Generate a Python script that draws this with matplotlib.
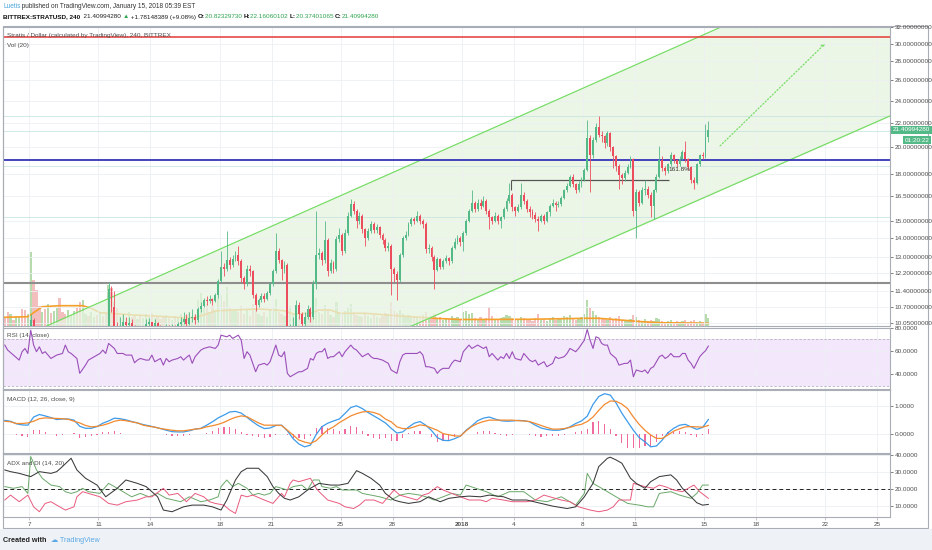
import numpy as np
import matplotlib.pyplot as plt
from matplotlib.patches import Rectangle

plt.rcParams['font.family'] = ['Liberation Sans', 'DejaVu Sans']

W, H = 932, 550

# ---------------- data ----------------
# 4h candles, time in days since 1 Dec 2017
t0 = 4.5833
first_open = 9.3
closes = [
    9.2, 9.0, 9.3, 9.1, 9.4, 9.6, 9.5, 9.3, 9.6, 10.15,
    9.7, 9.6, 9.4, 9.5, 9.3, 9.4, 9.2, 9.3, 9.5, 9.4,
    9.3, 9.2, 9.4, 9.5, 9.6, 9.5, 9.4, 9.6, 9.7, 9.5,
    9.6, 9.7, 9.6, 9.8, 9.7, 9.6, 11.5, 10.7, 9.9, 9.7,
    9.9, 10.1, 9.95, 10.05, 9.9, 9.7, 9.8, 9.6, 9.8, 10.0,
    10.1, 9.9, 10.05, 9.9, 9.8, 9.7, 9.9, 9.8, 9.9, 9.85,
    10.0, 10.1, 10.2, 10.0, 10.25, 10.3, 10.15, 10.6, 10.75, 11.0,
    10.95, 11.05, 10.95, 11.2, 11.85, 12.5, 12.4, 12.85, 12.6, 12.9,
    13.1, 12.8, 12.0, 11.7, 12.4, 12.3, 11.2, 10.8, 11.0, 11.15,
    11.05, 11.3, 11.7, 12.3, 13.3, 12.85, 12.4, 12.6, 9.3, 9.6,
    9.9, 10.8, 10.4, 10.0, 10.3, 10.6, 10.3, 11.7, 13.1, 13.2,
    12.85, 13.9, 12.3, 12.7, 12.4, 13.95, 14.2, 13.3, 14.3, 15.3,
    16.0, 15.6, 14.95, 15.3, 14.5, 14.0, 14.4, 14.8, 14.45, 14.65,
    14.2, 13.9, 13.5, 13.6, 12.4, 12.15, 11.9, 13.1, 14.0, 14.2,
    14.8, 15.1, 14.95, 15.3, 15.0, 14.8, 13.4, 13.5, 13.0, 12.35,
    12.9, 12.5, 12.8, 12.95, 12.8, 13.5, 13.8, 14.0, 13.8, 14.3,
    15.0, 15.6, 16.1, 15.7, 16.1, 15.9, 16.2, 15.6, 15.2, 15.0,
    15.3, 15.0, 15.2, 15.7, 16.2, 16.6, 15.8, 15.6, 15.8, 16.6,
    16.2, 15.7, 15.5, 15.35, 15.1, 15.0, 15.3, 15.0, 15.5, 15.9,
    16.1, 15.95, 16.0, 16.4, 16.9, 17.2, 17.8, 17.3, 16.9, 17.3,
    17.6, 18.3, 20.7, 19.4, 20.6, 21.6, 21.0, 20.9, 20.3, 21.1,
    20.0, 19.3, 18.6, 17.9, 17.7, 18.1, 18.5, 19.1, 15.6, 16.8,
    16.1, 16.9, 17.0, 16.6, 15.9, 16.9, 17.8, 19.0, 18.4, 18.2,
    18.7, 19.4, 19.0, 18.7, 19.1, 19.6, 19.1, 18.5, 17.6, 17.4,
    18.7, 19.4, 19.3, 20.82, 21.41]
highs = [
    9.4, 9.3, 9.4, 9.4, 9.6, 9.8, 9.7, 9.6, 9.8, 10.4,
    10.25, 9.8, 9.7, 9.6, 9.6, 9.5, 9.5, 9.4, 9.6, 9.6,
    9.5, 9.4, 9.5, 9.6, 9.7, 9.7, 9.6, 9.7, 9.8, 9.8,
    9.7, 9.8, 9.8, 9.85, 9.85, 9.8, 11.8, 11.6, 11.4, 10.1,
    10.3, 10.4, 10.3, 10.3, 10.2, 9.95, 9.9, 9.85, 9.9, 10.2,
    10.25, 10.1, 10.2, 10.1, 9.95, 9.9, 10.0, 9.95, 10.0, 9.95,
    10.1, 10.3, 10.5, 10.4, 10.5, 10.6, 10.4, 10.7, 10.9, 11.1,
    11.15, 11.2, 11.1, 11.3, 11.95, 13.3, 12.7, 14.4, 13.0, 13.1,
    13.3, 13.6, 12.9, 12.1, 12.6, 12.6, 12.35, 11.3, 11.1, 11.3,
    11.3, 11.4, 11.8, 12.4, 14.3, 13.5, 12.9, 12.8, 12.7, 10.0,
    10.3, 11.0, 10.9, 10.5, 10.5, 10.8, 10.7, 11.9, 15.6, 13.5,
    13.3, 15.0, 14.0, 12.9, 12.8, 14.1, 14.6, 14.3, 14.5, 15.5,
    16.3, 16.2, 15.7, 15.5, 15.4, 14.6, 14.6, 15.0, 14.9, 14.8,
    14.7, 14.3, 14.0, 13.8, 13.7, 12.5, 12.3, 13.2, 14.1, 14.4,
    14.9, 15.2, 15.2, 15.6, 15.4, 15.1, 14.9, 13.7, 13.6, 13.1,
    13.0, 12.95, 12.9, 13.1, 13.0, 13.6, 14.0, 14.2, 14.1, 14.4,
    15.1, 15.7, 16.9, 16.2, 16.3, 16.3, 16.5, 16.3, 15.7, 15.3,
    15.5, 15.4, 15.3, 15.8, 16.4, 17.4, 16.7, 15.9, 16.0, 17.4,
    16.8, 16.3, 15.9, 15.7, 15.5, 15.3, 15.4, 15.4, 15.6, 16.0,
    16.3, 16.2, 16.2, 16.5, 17.0, 17.4, 17.9, 18.0, 17.4, 17.5,
    17.8, 18.4, 22.2, 21.0, 20.8, 22.0, 22.6, 21.3, 21.0, 21.3,
    21.2, 20.1, 19.4, 18.7, 18.1, 18.3, 18.7, 19.3, 19.2, 17.0,
    16.9, 17.1, 17.6, 17.2, 16.8, 17.0, 18.0, 20.1, 19.3, 18.6,
    18.8, 19.6, 19.5, 19.1, 19.3, 19.8, 20.5, 19.2, 18.6, 17.8,
    18.8, 19.5, 19.6, 21.9, 22.16]
lows = [
    8.9, 8.8, 8.9, 8.9, 9.0, 9.3, 9.2, 9.1, 9.2, 9.5,
    9.5, 9.4, 9.3, 9.3, 9.2, 9.2, 9.1, 9.1, 9.2, 9.3,
    9.2, 9.1, 9.1, 9.3, 9.4, 9.4, 9.3, 9.3, 9.5, 9.4,
    9.4, 9.5, 9.5, 9.5, 9.6, 9.5, 9.5, 10.5, 9.7, 9.5,
    9.6, 9.8, 9.8, 9.8, 9.7, 9.5, 9.6, 9.5, 9.5, 9.7,
    9.9, 9.8, 9.8, 9.7, 9.6, 9.5, 9.6, 9.6, 9.7, 9.7,
    9.8, 9.9, 10.0, 9.9, 9.95, 10.1, 10.0, 10.1, 10.5, 10.7,
    10.8, 10.85, 10.8, 10.9, 11.1, 11.8, 12.1, 12.3, 12.4, 12.5,
    12.8, 12.6, 11.8, 11.5, 11.6, 12.1, 11.1, 10.55, 10.7, 10.9,
    10.9, 11.0, 11.2, 11.6, 12.2, 12.7, 11.9, 12.2, 8.8, 9.0,
    9.4, 9.8, 10.2, 9.8, 9.9, 10.2, 10.1, 10.2, 11.5, 12.9,
    12.6, 12.7, 12.1, 12.2, 12.2, 12.3, 13.8, 13.1, 13.2, 14.2,
    15.2, 15.4, 14.6, 14.8, 14.3, 13.6, 13.9, 14.3, 14.3, 14.3,
    14.0, 13.7, 13.3, 13.3, 11.2, 11.8, 11.0, 11.8, 13.0, 13.9,
    14.1, 14.7, 14.8, 14.9, 14.8, 14.6, 13.2, 13.2, 12.8, 11.5,
    12.3, 12.4, 12.4, 12.7, 12.6, 12.7, 13.4, 13.7, 13.6, 13.3,
    14.2, 14.9, 15.5, 15.5, 15.6, 15.7, 15.8, 15.4, 14.5, 14.8,
    14.9, 14.8, 14.6, 15.1, 15.6, 16.1, 15.6, 15.3, 15.5, 15.7,
    16.0, 15.5, 15.2, 15.1, 14.9, 14.4, 14.9, 14.8, 14.9, 15.3,
    15.8, 15.6, 15.8, 15.9, 16.3, 16.8, 17.1, 17.1, 16.7, 16.8,
    17.1, 17.5, 18.2, 16.8, 19.2, 20.4, 20.8, 20.4, 19.9, 20.1,
    19.7, 18.4, 18.2, 17.0, 17.3, 17.5, 18.0, 18.4, 15.3, 14.0,
    15.9, 16.0, 16.6, 16.4, 15.2, 15.1, 16.8, 17.7, 18.2, 17.9,
    18.1, 18.6, 18.8, 18.5, 18.6, 19.0, 18.9, 18.3, 17.4, 17.0,
    17.3, 18.6, 19.1, 19.2, 20.37]
volumes = [
    8, 14, 12, 6, 10, 9, 17, 16, 12, 74,
    46, 36, 20, 14, 17, 22, 13, 15, 18, 28,
    14, 12, 16, 11, 15, 18, 24, 26, 12, 10,
    14, 9, 11, 13, 10, 12, 41, 38, 24, 18,
    10, 12, 8, 14, 9, 11, 7, 10, 8, 12,
    9, 13, 8, 10, 7, 9, 11, 8, 6, 10,
    8, 12, 9, 11, 14, 10, 12, 26, 33, 18,
    22, 14, 20, 16, 28, 31, 25, 39, 18, 15,
    17, 14, 20, 12, 16, 10, 22, 18, 12, 10,
    14, 9, 16, 18, 27, 14, 12, 10, 25, 20,
    13, 16, 10, 12, 9, 11, 8, 31, 28, 14,
    12, 21, 16, 11, 9, 24, 14, 12, 15, 19,
    22, 14, 11, 10, 9, 12, 10, 8, 11, 9,
    8, 10, 13, 12, 24, 15, 13, 16, 12, 9,
    11, 8, 10, 9, 7, 11, 14, 8, 10, 12,
    7, 9, 6, 8, 7, 10, 8, 9, 6, 14,
    15, 12, 13, 8, 7, 9, 6, 8, 19, 10,
    7, 6, 8, 9, 11, 10, 8, 6, 7, 9,
    8, 6, 7, 5, 8, 12, 6, 7, 5, 8,
    9, 6, 7, 8, 10, 9, 11, 7, 6, 8,
    9, 12, 26, 18, 15, 11, 9, 7, 8, 6,
    9, 7, 8, 10, 6, 5, 6, 7, 11, 9,
    6, 5, 7, 5, 6, 5, 8, 7, 5, 4,
    5, 6, 4, 5, 4, 5, 6, 4, 5, 6,
    4, 5, 4, 12, 8]
vol_ma_idx = [0, 8, 11, 13, 19, 27, 30, 33, 36, 45, 56, 65, 69, 73, 79, 88, 97, 100,
              106, 109, 113, 116, 125, 137, 149, 158, 181, 202, 206, 221, 227, 244]
vol_ma = [8.7, 9.3, 15.3, 19.3, 20.3, 20.3, 17.7, 13.3, 12.7, 11, 9.3, 7.7, 11, 15, 16, 17,
          15.3, 12, 12.7, 16, 16, 12.7, 12.7, 10, 7.7, 6.5, 6.7, 7.7, 7.7, 4.3, 3.3, 2.7]

rsi_idx = [0, 1, 3, 5, 6, 7, 8, 9, 10, 11, 12, 13, 14, 16, 18, 20, 21, 22, 23, 25, 26, 28, 29,
           31, 32, 33, 34, 35, 36, 38, 39, 41, 42, 44, 45, 46, 47, 49, 50, 51, 52, 53, 54, 55,
           56, 57, 58, 60, 61, 62, 63, 64, 65, 66, 68, 69, 71, 73, 74, 75, 77, 78, 79, 81, 82,
           83, 84, 85, 86, 87, 88, 90, 91, 92, 93, 94, 95, 96, 97, 98, 99, 100, 101, 102, 103,
           105, 106, 107, 108, 109, 110, 111, 112, 113, 114, 116, 117, 118, 119, 120, 121, 122,
           124, 125, 126, 127, 128, 129, 131, 132, 133, 134, 136, 137, 138, 139, 141, 143, 144,
           145, 146, 147, 149, 150, 151, 152, 154, 155, 156, 158, 159, 161, 162, 164, 166, 167,
           168, 169, 171, 172, 173, 174, 175, 176, 177, 179, 180, 181, 182, 183, 184, 185, 187,
           188, 190, 191, 192, 194, 195, 196, 198, 199, 201, 202, 203, 204, 205, 206, 207, 208,
           209, 210, 212, 213, 215, 216, 217, 218, 219, 221, 222, 223, 224, 225, 227, 228, 229,
           230, 231, 232, 234, 235, 236, 237, 238, 239, 241, 242, 243, 244]
rsi = [64.9, 60.6, 56.3, 52.0, 59.2, 62.0, 57.7, 77.7, 64.9, 59.2, 63.4, 57.7, 59.2, 53.4, 56.3,
       57.7, 64.9, 59.2, 57.7, 53.4, 40.6, 47.7, 52.0, 54.9, 56.3, 57.7, 60.6, 57.7, 66.3, 62.0,
       57.7, 57.7, 56.3, 56.3, 49.7, 52.0, 53.4, 52.0, 52.0, 56.3, 50.6, 52.0, 53.4, 47.7, 53.4,
       50.6, 52.0, 53.4, 54.9, 52.0, 54.3, 56.3, 49.2, 54.9, 60.6, 62.0, 63.4, 62.0, 64.9, 73.4,
       72.0, 73.4, 70.6, 73.4, 69.1, 53.4, 59.2, 56.3, 49.2, 42.0, 47.7, 49.2, 47.7, 50.6, 57.7,
       64.9, 56.3, 54.9, 59.2, 40.6, 37.7, 39.2, 40.6, 42.0, 42.0, 44.9, 53.4, 52.0, 57.7, 59.2,
       59.2, 62.0, 53.4, 54.9, 54.9, 59.2, 54.9, 59.2, 62.0, 64.9, 62.0, 60.6, 54.9, 56.3, 57.7,
       54.9, 53.4, 53.4, 52.0, 50.6, 49.2, 43.5, 40.6, 50.6, 56.3, 57.7, 57.7, 57.7, 59.2, 56.3,
       46.3, 46.3, 44.9, 40.6, 43.5, 44.9, 44.9, 49.2, 52.0, 50.6, 59.2, 64.9, 62.0, 64.9, 62.0,
       63.4, 54.9, 57.7, 52.0, 54.9, 53.4, 57.7, 53.4, 59.2, 53.4, 52.0, 57.7, 54.9, 52.0, 50.6,
       52.0, 47.7, 50.6, 46.3, 49.2, 54.9, 53.4, 54.9, 57.7, 62.0, 59.2, 62.0, 69.1, 78.3, 69.1,
       62.0, 72.0, 71.0, 66.3, 64.9, 64.9, 57.7, 53.4, 47.7, 49.2, 49.2, 52.0, 37.7, 43.5, 42.0,
       43.5, 40.6, 44.9, 46.3, 54.9, 56.3, 53.4, 54.9, 57.7, 54.9, 54.9, 57.7, 57.7, 52.0, 49.2,
       44.9, 54.9, 57.7, 60.0, 64.0]

# MACD sampled every second candle
macd_step = 2
macd = [0.50, 0.47, 0.38, 0.34, 0.33, 0.62, 0.71, 0.66, 0.60, 0.53,
        0.55, 0.55, 0.51, 0.29, 0.22, 0.22, 0.28, 0.40, 0.48, 0.58,
        0.56, 0.52, 0.46, 0.41, 0.35, 0.31, 0.26, 0.21, 0.15, 0.10,
        0.09, 0.09, 0.13, 0.19, 0.22, 0.33, 0.45, 0.59, 0.69, 0.80,
        0.82, 0.76, 0.61, 0.45, 0.31, 0.21, 0.23, 0.32, 0.33, 0.13,
        -0.15, -0.34, -0.44, -0.38, 0.00, 0.28, 0.40, 0.48, 0.55, 0.75,
        0.96, 1.02, 0.92, 0.78, 0.66, 0.54, 0.41, 0.22, 0.05, 0.09,
        0.26, 0.40, 0.46, 0.33, 0.14, -0.11, -0.21, -0.22, -0.15, -0.06,
        0.15, 0.31, 0.49, 0.58, 0.62, 0.55, 0.49, 0.47, 0.48, 0.50,
        0.49, 0.45, 0.33, 0.23, 0.18, 0.15, 0.15, 0.19, 0.27, 0.39,
        0.48, 0.65, 1.07, 1.35, 1.45, 1.40, 1.12, 0.76, 0.45, 0.15,
        -0.11, -0.26, -0.44, -0.41, -0.20, 0.06, 0.22, 0.33, 0.36, 0.27,
        0.18, 0.25, 0.53]
signal = [0.47, 0.45, 0.39, 0.39, 0.41, 0.47, 0.56, 0.59, 0.58, 0.57,
          0.56, 0.54, 0.47, 0.41, 0.32, 0.27, 0.29, 0.33, 0.39, 0.47,
          0.51, 0.49, 0.45, 0.41, 0.33, 0.29, 0.26, 0.21, 0.18, 0.15,
          0.13, 0.13, 0.16, 0.19, 0.21, 0.27, 0.31, 0.36, 0.43, 0.53,
          0.61, 0.66, 0.63, 0.52, 0.41, 0.33, 0.33, 0.33, 0.32, 0.15,
          -0.02, -0.20, -0.27, -0.32, -0.22, -0.02, 0.16, 0.27, 0.42, 0.54,
          0.66, 0.74, 0.80, 0.82, 0.78, 0.71, 0.55, 0.45, 0.27, 0.21,
          0.21, 0.27, 0.34, 0.31, 0.23, 0.15, 0.03, -0.01, -0.05, -0.06,
          0.13, 0.29, 0.39, 0.46, 0.51, 0.51, 0.51, 0.51, 0.51, 0.49,
          0.48, 0.46, 0.39, 0.32, 0.25, 0.19, 0.19, 0.21, 0.25, 0.32,
          0.36, 0.46, 0.62, 0.86, 1.07, 1.19, 1.18, 1.08, 0.92, 0.62,
          0.36, 0.15, -0.02, -0.14, -0.14, -0.02, 0.12, 0.20, 0.27, 0.28,
          0.27, 0.26, 0.32]

adx_idx = [0, 2, 5, 9, 12, 16, 18, 20, 23, 25, 28, 32, 35, 39, 42, 46, 49, 53, 55, 58, 62, 65,
           69, 72, 75, 77, 80, 82, 84, 88, 91, 93, 95, 97, 99, 102, 105, 107, 109, 113, 116, 119,
           122, 124, 127, 130, 132, 135, 137, 140, 144, 147, 151, 154, 158, 161, 165, 168, 173,
           176, 181, 186, 190, 195, 198, 201, 204, 206, 209, 210, 212, 214, 217, 219, 222, 224,
           227, 231, 233, 235, 238, 240, 242, 244]
adx = [31.4, 30.4, 29.4, 27.5, 30.4, 29.4, 30.4, 33.4, 38.3, 31.4, 26.5, 22.5, 15.6, 20.6, 25.5,
       23.5, 21.6, 15.6, 7.8, 6.8, 9.7, 10.7, 10.7, 9.7, 7.8, 13.7, 25.5, 30.4, 32.4, 32.4, 27.5,
       21.6, 17.6, 14.7, 13.7, 15.6, 19.6, 21.6, 23.5, 22.5, 22.5, 23.5, 31.0, 29.4, 26.5, 22.5,
       17.6, 13.7, 12.7, 11.7, 12.7, 15.6, 12.7, 14.7, 15.6, 16.0, 15.6, 16.6, 15.6, 13.7, 13.7,
       11.7, 10.1, 8.7, 9.7, 15.6, 23.5, 33.4, 38.3, 38.9, 37.3, 35.4, 26.5, 23.5, 20.6, 24.5,
       27.5, 28.5, 25.5, 20.6, 15.6, 12.1, 10.7, 11.1]
di_plus_idx = [0, 3, 6, 8, 9, 11, 13, 16, 19, 21, 23, 25, 27, 29, 33, 35, 36, 38, 41, 44, 47, 50,
               53, 56, 61, 64, 68, 71, 74, 75, 77, 79, 81, 84, 86, 88, 90, 92, 94, 98, 100, 103,
               105, 107, 109, 110, 113, 115, 117, 120, 122, 124, 127, 130, 134, 137, 140, 144,
               146, 149, 152, 155, 158, 160, 167, 171, 175, 180, 184, 188, 193, 198, 201, 202,
               204, 206, 209, 212, 216, 220, 223, 225, 227, 231, 234, 238, 240, 242, 244]
di_plus = [21.6, 20.6, 21.6, 17.6, 39.3, 31.4, 26.5, 22.5, 21.6, 18.6, 17.6, 18.6, 20.6, 18.6,
           17.6, 21.6, 23.5, 21.6, 18.6, 15.6, 17.6, 15.6, 17.6, 14.7, 12.7, 15.6, 12.7, 13.7,
           15.6, 21.6, 25.5, 21.6, 23.5, 20.6, 16.6, 17.6, 16.6, 17.6, 21.6, 19.6, 21.6, 22.5,
           19.6, 25.5, 25.5, 21.6, 20.6, 21.6, 19.6, 19.6, 19.6, 17.6, 16.6, 15.6, 13.7, 16.6,
           17.6, 16.6, 15.6, 13.7, 15.6, 17.6, 16.6, 22.5, 18.6, 15.6, 18.6, 18.6, 13.7, 12.7,
           15.6, 10.7, 17.6, 29.4, 23.5, 21.6, 18.6, 15.6, 11.7, 10.7, 9.7, 9.7, 17.6, 18.6,
           16.6, 14.7, 17.6, 22.5, 22.5]
di_minus_idx = [0, 2, 5, 8, 10, 12, 14, 16, 18, 21, 24, 25, 27, 29, 33, 36, 39, 42, 46, 49, 51,
                55, 57, 60, 63, 66, 69, 71, 73, 76, 78, 80, 82, 84, 86, 90, 93, 96, 97, 99, 100,
                102, 104, 106, 108, 109, 112, 114, 116, 118, 121, 123, 125, 128, 131, 133, 135,
                137, 139, 143, 145, 147, 150, 152, 155, 158, 161, 165, 167, 169, 173, 176, 181,
                184, 187, 189, 193, 196, 199, 203, 206, 209, 211, 213, 217, 218, 220, 222, 225,
                227, 229, 232, 235, 238, 239, 241, 244]
di_minus = [13.7, 16.6, 12.7, 16.6, 9.7, 6.8, 11.7, 12.7, 10.7, 7.8, 9.7, 15.6, 18.6, 17.6, 15.6,
            11.7, 10.7, 12.7, 13.7, 15.6, 15.6, 20.6, 16.6, 17.6, 12.7, 17.6, 15.6, 12.7, 11.7,
            10.7, 7.8, 5.8, 16.6, 15.6, 16.6, 13.7, 11.7, 17.6, 15.6, 23.5, 25.5, 24.5, 25.5,
            26.5, 20.6, 18.6, 13.7, 12.7, 11.7, 9.7, 8.7, 10.7, 13.7, 13.7, 11.7, 15.6, 19.6,
            16.6, 15.6, 13.7, 16.6, 17.6, 21.6, 19.6, 17.6, 15.6, 13.7, 13.7, 12.7, 14.7, 13.7,
            12.7, 12.7, 13.7, 16.6, 15.6, 13.7, 12.7, 9.7, 7.8, 6.8, 7.8, 9.7, 13.7, 13.7, 23.5,
            22.5, 21.6, 20.6, 22.5, 21.6, 19.6, 18.6, 21.6, 22.5, 18.6, 14.7]

# drawings (time in days since 1 Dec, price)
red_level = 30.77
blue_level = 19.0
gray_level = 11.75
faint_levels = [22.6, 21.3, 18.6, 15.2]
fib_level = 17.57
fib_span = (33.83, 42.98)
channel_upper = [(7.0, 9.93), (47.1, 33.1)]
channel_lower = [(28.2, 9.96), (55.75, 22.6)]
target_arrow = [(45.93, 20.1), (52.0, 30.0)]

day_ticks = [6, 10, 13, 17, 20, 24, 27, 31, 34, 38, 41, 45, 48, 52, 55]
day_labels = ['7', '11', '14', '18', '21', '25', '28', '2018', '4', '8', '11', '15', '18', '22', '25']
price_ticks = [10.05, 10.7, 11.4, 12.2, 13, 14, 15, 16.5, 18, 20, 22, 24, 26, 28, 30, 32]
last_price = 21.40994280

# ---------------- figure ----------------
fig = plt.figure(figsize=(W / 100, H / 100), dpi=100)
fig.patch.set_facecolor('white')

def px_axes(x0, y0, x1, y1):
    return fig.add_axes([x0 / W, 1 - y1 / H, (x1 - x0) / W, (y1 - y0) / H])

GRID = '#edf0f3'
SPINE = '#a9adb5'
TXT = '#4d4d4d'
FS = 4.6
xlim = (4.48, 55.75)

ax = px_axes(3, 26.7, 890, 326)
ax_rsi = px_axes(3, 327.5, 890, 388.5)
ax_macd = px_axes(3, 389.5, 890, 453)
ax_adx = px_axes(3, 454, 890, 517)

n = len(closes)
t = t0 + np.arange(n) / 6.0
c = np.array(closes)
o = np.r_[first_open, c[:-1]]
hi = np.maximum(np.array(highs), np.maximum(o, c))
lo = np.minimum(np.array(lows), np.minimum(o, c))
up = c >= o
UP, DN = '#53b987', '#eb4d5c'
ccol = np.where(up, UP, DN)

# volume on a twin axis kept behind the candles
axv = ax.twinx()
ax.set_zorder(axv.get_zorder() + 1)
ax.patch.set_visible(False)
axv.set_ylim(0, 299.3)
axv.set_yticks([])
for s in axv.spines.values():
    s.set_visible(False)
vcol = np.where(up, '#a9d6a0', '#f2b3b3')
axv.bar(t, volumes, width=0.13, color=vcol, alpha=0.85, linewidth=0)
axv.plot(t0 + np.array(vol_ma_idx) / 6.0, vol_ma, color='#f5a02a', lw=1.2)

for a in (ax, ax_rsi, ax_macd, ax_adx):
    a.set_xlim(*xlim)
    a.set_xticks(day_ticks)
    a.grid(True, color=GRID, lw=0.6)
    a.set_axisbelow(True)
    a.yaxis.tick_right()
    a.yaxis.set_label_position('right')
    a.tick_params(axis='y', labelsize=FS, colors=TXT, length=2, width=0.5, pad=1.5)
    a.tick_params(axis='x', length=0, labelbottom=False)
    for s in a.spines.values():
        s.set_color(SPINE)
        s.set_linewidth(0.8)

# price panel
ax.set_yscale('log')
ax.set_ylim(9.93, 32.05)
ax.set_yticks(price_ticks)
ax.set_yticklabels(['%.8f' % v for v in price_ticks])
ax.yaxis.set_minor_locator(plt.NullLocator())
ax.tick_params(axis='y', which='both', left=False, labelleft=False, right=True, labelright=True)

def chan(p0, p1, tt):
    k = (np.log(p1[1]) - np.log(p0[1])) / (p1[0] - p0[0])
    return np.exp(np.log(p0[1]) + k * (tt - p0[0]))

tt = np.linspace(channel_upper[0][0], xlim[1], 60)
up_line = chan(*channel_upper, tt)
lo_line = chan(*channel_lower, tt)
ax.fill_between(tt, lo_line, up_line, color='#e6f4df', alpha=0.75, lw=0, zorder=0.5)
ax.plot(tt, up_line, color='#77dd66', lw=0.9, zorder=2)
ax.plot(tt, lo_line, color='#77dd66', lw=0.9, zorder=2)

for lv in faint_levels:
    ax.axhline(lv, color='#c9e6e1', lw=0.6, zorder=0.6)
ax.axhline(red_level, color='#e53935', lw=1.1, zorder=2)
ax.axhline(blue_level, color='#3535b8', lw=1.3, zorder=2)
ax.axhline(gray_level, color='#8e8e8e', lw=1.5, zorder=2)
ax.hlines(fib_level, *fib_span, color='#555555', lw=0.9, zorder=2)
ax.vlines(fib_span[0], 16.9, fib_level, color='#555555', lw=0.8, zorder=2)
ax.text(fib_span[1] + 0.6, 18.35, '161.8%', fontsize=FS, color='#333333', ha='center', va='center', zorder=4)
ax.annotate('', xy=target_arrow[1], xytext=target_arrow[0],
            arrowprops=dict(arrowstyle='->', color='#77dd66', lw=0.9, linestyle=':',
                            shrinkA=0, shrinkB=0, mutation_scale=5), zorder=3)

ax.vlines(t, lo, hi, colors=ccol, lw=0.6, zorder=3)
ax.bar(t, np.maximum(np.maximum(o, c) - np.minimum(o, c), 0.015), bottom=np.minimum(o, c),
       width=0.11, color=ccol, linewidth=0, zorder=3.1)

ax.annotate('%.8f' % last_price, xy=(1.0, last_price), xycoords=('axes fraction', 'data'),
            xytext=(2, 0), textcoords='offset points', fontsize=FS, color='white',
            ha='left', va='center', annotation_clip=False,
            bbox=dict(boxstyle='square,pad=0.25', fc='#53b987', ec='none'))
ax.annotate('01:20:22', xy=(1.0, 20.55), xycoords=('axes fraction', 'data'),
            xytext=(28.5, 0), textcoords='offset points', fontsize=FS, color='white',
            ha='right', va='center', annotation_clip=False,
            bbox=dict(boxstyle='square,pad=0.25', fc='#53b987', ec='none'))

# RSI
ax_rsi.set_ylim(27.6, 80)
ax_rsi.axhspan(30, 70, color='#f3e7fc', lw=0, zorder=0.5)
ax_rsi.axhline(70, color='#b9b0c0', lw=0.6, ls=(0, (3, 2)))
ax_rsi.axhline(30, color='#b9b0c0', lw=0.6, ls=(0, (3, 2)))
ax_rsi.plot(t0 + np.array(rsi_idx) / 6.0, rsi, color='#9a4fb8', lw=0.8)
ax_rsi.set_yticks([40, 60, 80])
ax_rsi.set_yticklabels(['40.0000', '60.0000', '80.0000'])

# MACD
tm = t0 + np.arange(len(macd)) * macd_step / 6.0
hist = np.array(macd) - np.array(signal)
ax_macd.set_ylim(-0.66, 1.6)
ax_macd.bar(tm, hist, width=0.07, color='#ef6a9e', linewidth=0)
ax_macd.plot(tm, macd, color='#3d9be9', lw=0.9)
ax_macd.plot(tm, signal, color='#f28a30', lw=0.9)
ax_macd.set_yticks([0, 1])
ax_macd.set_yticklabels(['0.0000', '1.0000'])

# ADX / DI
ax_adx.set_ylim(3.7, 40.8)
ax_adx.axhline(20, color='#222222', lw=0.7, ls=(0, (4, 3)))
ax_adx.plot(t0 + np.array(di_plus_idx) / 6.0, di_plus, color='#6aa86a', lw=0.7)
ax_adx.plot(t0 + np.array(di_minus_idx) / 6.0, di_minus, color='#e85a7e', lw=0.7)
ax_adx.plot(t0 + np.array(adx_idx) / 6.0, adx, color='#3a3a3a', lw=0.75)
ax_adx.set_yticks([10, 20, 30, 40])
ax_adx.set_yticklabels(['10.0000', '20.0000', '30.0000', '40.0000'])
ax_adx.tick_params(axis='x', length=2, width=0.5, colors=SPINE, labelbottom=True,
                   labelsize=FS, labelcolor=TXT, pad=1.5)
ax_adx.set_xticklabels(day_labels)
for lab in ax_adx.get_xticklabels():
    if lab.get_text() == '2018':
        lab.set_fontweight('bold')

# panel captions
def ftext(x, y, s, **kw):
    return fig.text(x / W, 1 - y / H, s, ha='left', va='center', **kw)

ftext(7, 36, 'Stratis / Dollar (calculated by TradingView), 240, BITTREX', fontsize=FS, color=TXT)
ftext(7, 46, 'Vol (20)', fontsize=FS, color=TXT)
ftext(7, 335.5, 'RSI (14, close)', fontsize=FS, color=TXT)
ftext(7, 399.5, 'MACD (12, 26, close, 9)', fontsize=FS, color=TXT)
ftext(7, 463.5, 'ADX and DI (14, 20)', fontsize=FS, color=TXT)

# frame + footer
fig.add_artist(Rectangle((3 / W, 1 - 528 / H), 925 / W, 502 / H, transform=fig.transFigure,
                         fill=False, ec=SPINE, lw=0.8))
fig.add_artist(Rectangle((0, 0), 1, 21 / H, transform=fig.transFigure, fc='#eef1f5', ec='none'))

# header
fig.canvas.draw()
renderer = fig.canvas.get_renderer()

def run_line(pieces, x, y, size):
    for s, col, wt in pieces:
        tx = ftext(x, y, s, fontsize=size, color=col, fontweight=wt)
        x = tx.get_window_extent(renderer=renderer).x1

GREEN = '#2ea44f'
run_line([('Luetis', '#4aa3df', 'normal'),
          (' published on TradingView.com, January 15, 2018 05:39 EST', '#333333', 'normal')],
         3, 7, 4.7)
run_line([('BITTREX:STRATUSD, 240', '#111111', 'bold'),
          ('  21.40994280 ', '#222222', 'normal'),
          ('\u25b2', GREEN, 'normal'),
          (' +1.78148389 (+9.08%) ', '#222222', 'normal'),
          ('O:', '#111111', 'bold'), ('20.82329730 ', GREEN, 'normal'),
          ('H:', '#111111', 'bold'), ('22.16060102 ', GREEN, 'normal'),
          ('L:', '#111111', 'bold'), ('20.37401065 ', GREEN, 'normal'),
          ('C:', '#111111', 'bold'), ('21.40994280', GREEN, 'normal')],
         3, 17, 4.6)
run_line([('Created with  ', '#222222', 'bold'), ('\u2601', '#5aa9e6', 'normal'),
          (' TradingView', '#5aa9e6', 'normal')], 3, 540, 5.2)

fig.savefig('out.png', dpi=100)
